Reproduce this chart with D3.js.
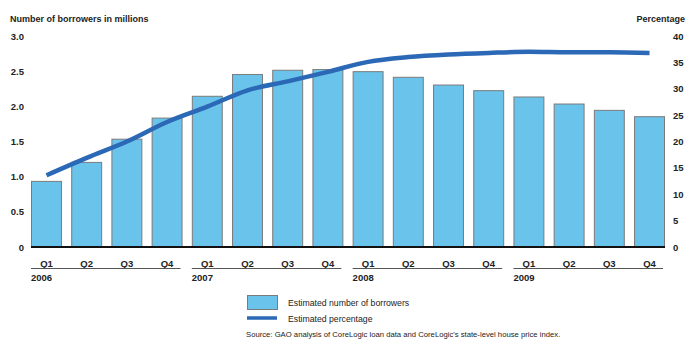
<!DOCTYPE html>
<html>
<head>
<meta charset="utf-8">
<script src="https://cdn.jsdelivr.net/npm/d3@7"></script>
<style>
  body { margin: 0; background: #fff; }
  svg { display: block; font-family: "Liberation Sans", Arial, Helvetica, sans-serif; }
</style>
</head>
<body>
<svg id="chart" width="700" height="344"></svg>
<script>
// Quarterly series, 2006–2009
const years = ["2006", "2007", "2008", "2009"];
const quarters = ["Q1", "Q2", "Q3", "Q4"];
const borrowers = [0.94, 1.21, 1.54, 1.84, 2.15, 2.46, 2.52, 2.53,
                   2.50, 2.42, 2.31, 2.23, 2.14, 2.04, 1.95, 1.86]; // millions
const percentage = [13.6, 16.9, 20.0, 23.7, 26.6, 29.7, 31.4, 33.2,
                    35.1, 36.0, 36.5, 36.8, 37.0, 36.9, 36.9, 36.8];
const leftTicks = [0, 0.5, 1.0, 1.5, 2.0, 2.5, 3.0];
const rightTicks = [0, 5, 10, 15, 20, 25, 30, 35, 40];
const legendLabels = ["Estimated number of borrowers", "Estimated percentage"];
const sourceNote = "Source: GAO analysis of CoreLogic loan data and CoreLogic's state-level house price index.";

const periods = [];
years.forEach(y => quarters.forEach(q => periods.push(y + " " + q)));

const svg = d3.select("#chart");
const barFill = "#69c3eb", barStroke = "#7b7b7b", lineColor = "#2b68b6";

const x = d3.scaleBand().domain(periods).range([31, 665]).paddingInner(0.23).paddingOuter(0);
const yL = d3.scaleLinear().domain([0, 3]).range([247, 36]);
const yR = d3.scaleLinear().domain([0, 40]).range([247, 36]);

// Axis titles
svg.append("text").attr("x", 10).attr("y", 22)
  .attr("font-size", 9).attr("font-weight", "bold").attr("fill", "#222")
  .text("Number of borrowers in millions");
svg.append("text").attr("x", 685).attr("y", 22).attr("text-anchor", "end")
  .attr("font-size", 9).attr("font-weight", "bold").attr("fill", "#222")
  .text("Percentage");

// Left axis labels
const leftAxis = d3.axisLeft(yL).tickValues(leftTicks).tickSize(0).tickPadding(0)
  .tickFormat(d => d === 0 ? "0" : d3.format(".1f")(d));
const gL = svg.append("g").attr("transform", "translate(24,0)").call(leftAxis);
gL.select(".domain").remove();
gL.selectAll("text").attr("font-size", 9.5).attr("font-weight", "bold").attr("fill", "#222")
  .attr("font-family", null);

// Right axis labels
const rightAxis = d3.axisRight(yR).tickValues(rightTicks).tickSize(0).tickPadding(0);
const gR = svg.append("g").attr("transform", "translate(673,0)").call(rightAxis);
gR.select(".domain").remove();
gR.selectAll("text").attr("font-size", 9.5).attr("font-weight", "bold").attr("fill", "#222")
  .attr("font-family", null);

// Bars
svg.append("g").selectAll("rect").data(borrowers).join("rect")
  .attr("x", (d, i) => x(periods[i]) + 0.5)
  .attr("y", d => yL(d) + 0.5)
  .attr("width", x.bandwidth() - 1)
  .attr("height", d => yL(0) - yL(d) - 0.5)
  .attr("fill", barFill).attr("stroke", barStroke).attr("stroke-width", 1);

// Baseline
svg.append("line").attr("x1", 31).attr("x2", 665).attr("y1", yL(0)).attr("y2", yL(0))
  .attr("stroke", "#111").attr("stroke-width", 2);

// Percentage line
const line = d3.line()
  .x((d, i) => x(periods[i]) + x.bandwidth() / 2)
  .y(d => yR(d))
  .curve(d3.curveMonotoneX);
svg.append("path").datum(percentage).attr("d", line)
  .attr("fill", "none").attr("stroke", lineColor).attr("stroke-width", 4.5);

// Quarter labels
svg.append("g").selectAll("text").data(periods).join("text")
  .attr("x", d => x(d) + x.bandwidth() / 2).attr("y", 267)
  .attr("text-anchor", "middle").attr("font-size", 9.5).attr("font-weight", "bold").attr("fill", "#222")
  .text(d => d.split(" ")[1]);

// Year groups
years.forEach(yr => {
  const first = x(yr + " Q1"), last = x(yr + " Q4") + x.bandwidth();
  svg.append("line").attr("x1", first).attr("x2", last - 2).attr("y1", 268.5).attr("y2", 268.5)
    .attr("stroke", "#555").attr("stroke-width", 1);
  svg.append("text").attr("x", first).attr("y", 281)
    .attr("font-size", 9.5).attr("font-weight", "bold").attr("fill", "#222").text(yr);
});

// Legend
const lg = svg.append("g");
lg.append("rect").attr("x", 247.5).attr("y", 295.5).attr("width", 30).attr("height", 14)
  .attr("fill", barFill).attr("stroke", barStroke);
lg.append("text").attr("x", 288).attr("y", 305.5).attr("font-size", 8.7).attr("fill", "#222")
  .text(legendLabels[0]);
lg.append("line").attr("x1", 247).attr("x2", 277).attr("y1", 318).attr("y2", 318)
  .attr("stroke", lineColor).attr("stroke-width", 3.5);
lg.append("text").attr("x", 288).attr("y", 321.5).attr("font-size", 8.7).attr("fill", "#222")
  .text(legendLabels[1]);

svg.append("text").attr("x", 246).attr("y", 337).attr("font-size", 7.7).attr("fill", "#222")
  .text(sourceNote);
</script>
</body>
</html>
